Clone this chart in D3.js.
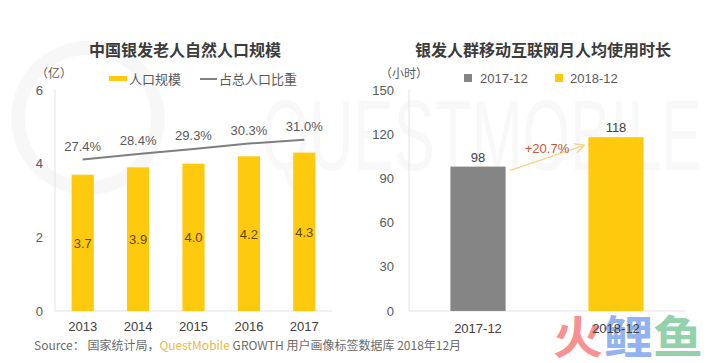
<!DOCTYPE html>
<html><head><meta charset="utf-8">
<script src="https://cdn.jsdelivr.net/npm/d3@7"></script>
<style>
html,body{margin:0;padding:0;background:#fff;}
svg{display:block;font-family:"Liberation Sans","Noto Sans CJK SC",sans-serif;}
</style></head>
<body>
<script>
// Left chart data
const years = ["2013","2014","2015","2016","2017"];
const population = [3.7, 3.9, 4.0, 4.2, 4.3];       // 亿
const populationLabels = ["3.7","3.9","4.0","4.2","4.3"];
const share = [27.4, 28.4, 29.3, 30.3, 31.0];        // %
const leftTicks = [0, 2, 4, 6];
// Right chart data
const periods = ["2017-12","2018-12"];
const hours = [98, 118];
const rightTicks = [0, 30, 60, 90, 120, 150];
const growthLabel = "+20.7%";

const W = 720, H = 363;
const svg = d3.select("body").append("svg").attr("width", W).attr("height", H);

const CJK = "'Noto Sans CJK SC','Liberation Sans',sans-serif";
const TXT = "#595959";

// watermark
svg.append("circle").attr("cx", 88).attr("cy", 118).attr("r", 70)
  .attr("fill", "none").attr("stroke", "#f7f7f7").attr("stroke-width", 14);
svg.append("text").attr("x", 262).attr("y", 170).attr("textLength", 440)
  .attr("lengthAdjust", "spacingAndGlyphs")
  .attr("font-size", 100).attr("font-weight", 200).attr("fill", "#f8f8f8")
  .text("QUESTMOBILE");

// ---------- Left chart ----------
const L = {x0: 55, x1: 332, y0: 311, y1: 90};
const xL = d3.scaleBand().domain(years).range([L.x0, L.x1]);
const yL = d3.scaleLinear().domain([0, 6]).range([L.y0, L.y1]);
const yS = d3.scaleLinear().domain([0, 40]).range([L.y0, L.y1]);

svg.append("text").attr("x", 185).attr("y", 56).attr("text-anchor", "middle")
  .attr("font-family", CJK).attr("font-size", 16).attr("font-weight", "bold")
  .attr("fill", "#3b3b3b").text("中国银发老人自然人口规模");

svg.append("text").attr("x", 36).attr("y", 78).attr("font-family", CJK)
  .attr("font-size", 12).attr("fill", TXT).text("（亿）");

// legend
svg.append("rect").attr("x", 109).attr("y", 76).attr("width", 18).attr("height", 5).attr("fill", "#FFC90E");
svg.append("text").attr("x", 129).attr("y", 84).attr("font-family", CJK).attr("font-size", 13)
  .attr("fill", TXT).text("人口规模");
svg.append("line").attr("x1", 200).attr("x2", 217).attr("y1", 79).attr("y2", 79)
  .attr("stroke", "#7f7f7f").attr("stroke-width", 2);
svg.append("text").attr("x", 219).attr("y", 84).attr("font-family", CJK).attr("font-size", 13)
  .attr("fill", TXT).text("占总人口比重");

const axL = svg.append("g").attr("transform", `translate(${L.x0 - 12},0)`)
  .call(d3.axisLeft(yL).tickValues(leftTicks).tickFormat(d3.format("d")).tickSize(0).tickPadding(0));
axL.select(".domain").remove();
axL.selectAll("text").attr("font-size", 13).attr("fill", TXT).attr("font-family", "Liberation Sans");

svg.append("line").attr("x1", L.x0).attr("x2", L.x0).attr("y1", L.y1).attr("y2", L.y0)
  .attr("stroke", "#e3e3e3");
svg.append("line").attr("x1", L.x0).attr("x2", L.x1).attr("y1", L.y0).attr("y2", L.y0)
  .attr("stroke", "#e3e3e3");

const bwL = xL.bandwidth() * 0.4;
svg.selectAll(".barL").data(population).enter().append("rect")
  .attr("x", (d, i) => xL(years[i]) + (xL.bandwidth() - bwL) / 2)
  .attr("y", d => yL(d)).attr("width", bwL).attr("height", d => L.y0 - yL(d))
  .attr("fill", "#FFC90E");
svg.selectAll(".barLab").data(population).enter().append("text")
  .attr("x", (d, i) => xL(years[i]) + xL.bandwidth() / 2)
  .attr("y", d => (yL(d) + L.y0) / 2 + 5).attr("text-anchor", "middle")
  .attr("font-size", 13).attr("fill", "#5a4a14").text((d, i) => populationLabels[i]);

const axXL = svg.append("g").attr("transform", `translate(0,${L.y0 + 8})`)
  .call(d3.axisBottom(xL).tickSize(0).tickPadding(3));
axXL.select(".domain").remove();
axXL.selectAll("text").attr("font-size", 13).attr("fill", "#404040").attr("font-family", "Liberation Sans");

const line = d3.line().x((d, i) => xL(years[i]) + xL.bandwidth() / 2).y(d => yS(d));
svg.append("path").datum(share).attr("d", line).attr("fill", "none")
  .attr("stroke", "#7f7f7f").attr("stroke-width", 2);
svg.selectAll(".shareLab").data(share).enter().append("text")
  .attr("x", (d, i) => xL(years[i]) + xL.bandwidth() / 2)
  .attr("y", d => yS(d) - 9).attr("text-anchor", "middle")
  .attr("font-size", 13).attr("fill", TXT).text(d => d.toFixed(1) + "%");

// ---------- Right chart ----------
const R = {x0: 409, x1: 685, y0: 311, y1: 90};
const xR = d3.scaleBand().domain(periods).range([R.x0, R.x1]);
const yR = d3.scaleLinear().domain([0, 150]).range([R.y0, R.y1]);
const colR = ["#858585", "#FFC90E"];

svg.append("text").attr("x", 543).attr("y", 56).attr("text-anchor", "middle")
  .attr("font-family", CJK).attr("font-size", 16).attr("font-weight", "bold")
  .attr("fill", "#3b3b3b").text("银发人群移动互联网月人均使用时长");

svg.append("text").attr("x", 380).attr("y", 78).attr("font-family", CJK)
  .attr("font-size", 12).attr("fill", TXT).text("（小时）");

svg.append("rect").attr("x", 464).attr("y", 74).attr("width", 8).attr("height", 8).attr("fill", colR[0]);
svg.append("text").attr("x", 480).attr("y", 83).attr("font-size", 13).attr("fill", TXT).text(periods[0]);
svg.append("rect").attr("x", 555).attr("y", 74).attr("width", 8).attr("height", 8).attr("fill", colR[1]);
svg.append("text").attr("x", 570).attr("y", 83).attr("font-size", 13).attr("fill", TXT).text(periods[1]);

const axR = svg.append("g").attr("transform", `translate(${R.x0 - 15},0)`)
  .call(d3.axisLeft(yR).tickValues(rightTicks).tickFormat(d3.format("d")).tickSize(0).tickPadding(0));
axR.select(".domain").remove();
axR.selectAll("text").attr("font-size", 13).attr("fill", TXT).attr("font-family", "Liberation Sans");

svg.append("line").attr("x1", R.x0).attr("x2", R.x0).attr("y1", R.y1).attr("y2", R.y0)
  .attr("stroke", "#e3e3e3");
svg.append("line").attr("x1", R.x0).attr("x2", R.x1).attr("y1", R.y0).attr("y2", R.y0)
  .attr("stroke", "#e3e3e3");

const bwR = xR.bandwidth() * 0.4;
svg.selectAll(".barR").data(hours).enter().append("rect")
  .attr("x", (d, i) => xR(periods[i]) + (xR.bandwidth() - bwR) / 2)
  .attr("y", d => yR(d)).attr("width", bwR).attr("height", d => R.y0 - yR(d))
  .attr("fill", (d, i) => colR[i]);
svg.selectAll(".barRLab").data(hours).enter().append("text")
  .attr("x", (d, i) => xR(periods[i]) + xR.bandwidth() / 2)
  .attr("y", d => yR(d) - 5).attr("text-anchor", "middle")
  .attr("font-size", 13).attr("fill", "#404040").text(d => d);

// growth arrow
const ax1 = xR(periods[0]) + (xR.bandwidth() + bwR) / 2 + 4, ay1 = yR(hours[0]) + 4;
const ax2 = xR(periods[1]) + (xR.bandwidth() - bwR) / 2 - 4, ay2 = yR(hours[1]) + 8;
const defs = svg.append("defs");
defs.append("marker").attr("id", "arr").attr("viewBox", "0 0 10 10").attr("refX", 9).attr("refY", 5)
  .attr("markerWidth", 8).attr("markerHeight", 8).attr("orient", "auto")
  .append("path").attr("d", "M1,1 L9,5 L1,9").attr("fill", "none").attr("stroke", "#f2d58a").attr("stroke-width", 1.2);
svg.append("line").attr("x1", ax1).attr("y1", ay1).attr("x2", ax2).attr("y2", ay2)
  .attr("stroke", "#f2d58a").attr("stroke-width", 1.5).attr("marker-end", "url(#arr)");
svg.append("text").attr("x", (ax1 + ax2) / 2).attr("y", (ay1 + ay2) / 2 - 5)
  .attr("text-anchor", "middle").attr("font-size", 13).attr("fill", "#c8573e").text(growthLabel);

// logo watermark
const logo = svg.append("text").attr("x", 553).attr("y", 354).attr("font-family", CJK)
  .attr("font-size", 45).attr("font-weight", "bold").attr("opacity", 0.85)
  .attr("textLength", 150).attr("lengthAdjust", "spacingAndGlyphs");
logo.append("tspan").attr("fill", "#f77f7f").text("火");
logo.append("tspan").attr("fill", "#7fa6ee").text("鲤");
logo.append("tspan").attr("fill", "#80c99b").text("鱼");

const axXR = svg.append("g").attr("transform", `translate(0,${R.y0 + 10})`)
  .call(d3.axisBottom(xR).tickSize(0).tickPadding(3));
axXR.select(".domain").remove();
axXR.selectAll("text").attr("font-size", 13).attr("fill", "#404040").attr("font-family", "Liberation Sans");

// source
const src = svg.append("text").attr("x", 34).attr("y", 350).attr("font-family", CJK)
  .attr("font-size", 12).attr("fill", "#6b6b6b");
src.append("tspan").text("Source：  国家统计局，");
src.append("tspan").attr("fill", "#e9b949").text("QuestMobile");
src.append("tspan").text(" GROWTH 用户画像标签数据库 2018年12月");
</script>
</body></html>
